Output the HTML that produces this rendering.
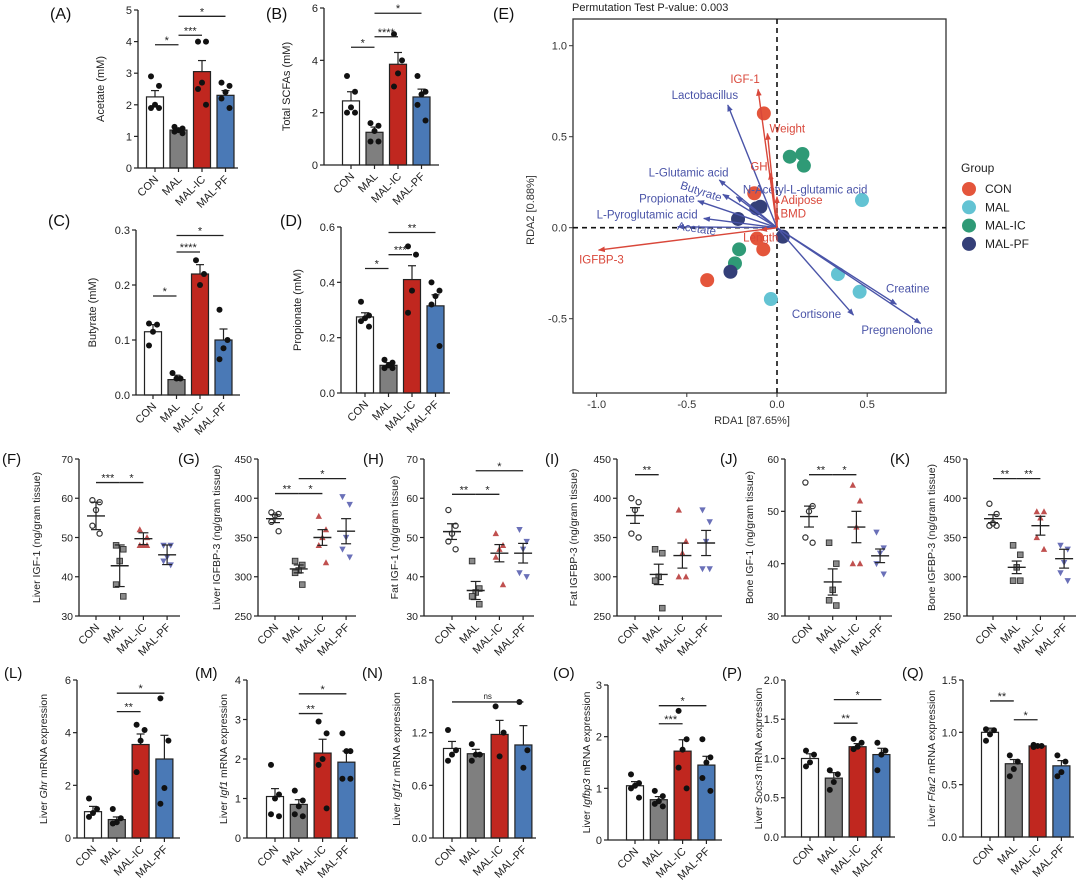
<!DOCTYPE html>
<html><head><meta charset="utf-8">
<style>
html,body{margin:0;padding:0;background:#fff;}
svg{display:block;font-family:"Liberation Sans",Arial,sans-serif;}
</style></head>
<body>
<svg id="fig" width="1080" height="885" viewBox="0 0 1080 885" xmlns="http://www.w3.org/2000/svg"></svg>
<script>
// ---------------- DATA ----------------
const groups = ["CON","MAL","MAL-IC","MAL-PF"];
// Row 1 SCFA bar panels
const A_mean=[2.25,1.2,3.05,2.3], A_err=[0.2,0.05,0.35,0.15];
const A_pts=[[2.9,2.6,2.0,1.9,1.9],[1.3,1.25,1.2,1.15,1.1],[4.0,4.0,2.7,2.5,2.0],[2.7,2.6,2.4,2.2,1.9]];
const A_sig=[[0,1,3.9,"*"],[1,2,4.2,"***"],[1,3,4.8,"*"]];
const B_mean=[2.45,1.25,3.85,2.6], B_err=[0.35,0.2,0.45,0.3];
const B_pts=[[3.4,2.8,2.2,2.0,2.0],[1.6,1.5,1.3,0.9,0.9],[5.0,4.0,3.5,3.0],[3.4,2.8,2.7,2.3,1.7]];
const B_sig=[[0,1,4.5,"*"],[1,2,4.9,"****"],[1,3,5.8,"*"]];
const C_mean=[0.115,0.028,0.22,0.10], C_err=[0.013,0.008,0.017,0.02];
const C_pts=[[0.13,0.128,0.115,0.09],[0.04,0.03,0.03],[0.245,0.22,0.2],[0.155,0.1,0.085,0.065]];
const C_sig=[[0,1,0.18,"*"],[1,2,0.26,"****"],[1,3,0.29,"*"]];
const D_mean=[0.275,0.10,0.41,0.315], D_err=[0.015,0.01,0.05,0.04];
const D_pts=[[0.33,0.28,0.27,0.26,0.24],[0.12,0.11,0.1,0.09,0.09],[0.53,0.5,0.37,0.29],[0.4,0.37,0.35,0.32,0.17]];
const D_sig=[[0,1,0.45,"*"],[1,2,0.5,"***"],[1,3,0.58,"**"]];
// Row 2 scatter panels
const F_mean=[55.5,42.8,49.7,45.6], F_err=[3.5,5.3,1.5,2.5];
const F_pts=[[59.5,59,57,53,51],[48,47,44,38,35],[52,50,48,48,48],[48,48,45,44,43]];
const F_sig=[[0,1,64,"***"],[1,2,64,"*"]];
const G_mean=[374,310,350,358], G_err=[5,5,10,16];
const G_pts=[[382,380,378,370,358],[320,315,308,305,290],[377,360,350,340,318],[402,392,350,335,325]];
const G_sig=[[0,1,406,"**"],[1,2,406,"*"],[1,3,425,"*"]];
const H_mean=[51.5,36.5,46,46], H_err=[2,2.3,2.2,2.5];
const H_pts=[[57,53,51,49,47],[44,37,36,35,33],[51,48,47,45,38],[52,49,47,41,40]];
const H_sig=[[0,1,61,"**"],[1,2,61,"*"],[1,3,67,"*"]];
const I_mean=[378,303,327,343], I_err=[10,13,16,16];
const I_pts=[[400,395,385,355,350],[335,330,300,295,260],[385,345,330,300,300],[385,370,345,310,310]];
const I_sig=[[0,1,430,"**"]];
const J_mean=[49,36.5,47,41.5], J_err=[2,2.5,3,1.3];
const J_pts=[[55.5,51,50,45,44],[44,40,35,33,32],[55,52,47,40,40],[46,43,42,40,38]];
const J_sig=[[0,1,57,"**"],[1,2,57,"*"]];
const K_mean=[374,312,365,323], K_err=[5,8,12,12];
const K_pts=[[393,380,368,365,365],[340,328,312,295,295],[383,383,375,350,335],[340,335,318,305,295]];
const K_sig=[[0,1,425,"**"],[1,2,425,"**"]];
// Row 3 mRNA bar panels
const L_mean=[1.0,0.7,3.55,3.0], L_err=[0.2,0.1,0.4,0.9];
const L_pts=[[1.5,1.1,0.95,0.8],[1.1,0.75,0.6,0.55],[4.3,4.1,3.7,2.5],[5.3,3.7,1.9,1.3]];
const L_sig=[[1,2,4.8,"**"],[1,3,5.5,"*"]];
const M_mean=[1.05,0.85,2.15,1.92], M_err=[0.2,0.12,0.35,0.28];
const M_pts=[[1.85,1.1,1.0,0.6,0.55],[1.2,0.95,0.8,0.6,0.55],[2.95,2.65,2.0,1.85,0.75],[2.65,2.2,2.2,1.5,1.5]];
const M_sig=[[1,2,3.15,"**"],[1,3,3.65,"*"]];
const N_mean=[1.02,0.96,1.18,1.06], N_err=[0.08,0.05,0.16,0.22];
const N_pts=[[1.23,1.0,0.95,0.88],[1.07,0.95,0.95,0.88],[1.5,1.2,0.93],[1.55,1.0,0.8]];
const N_sig=[[0,3,1.55,"ns"]];
const O_mean=[1.05,0.78,1.72,1.45], O_err=[0.08,0.06,0.22,0.17];
const O_pts=[[1.27,1.1,1.05,1.0,0.82],[0.95,0.85,0.75,0.7,0.65],[2.5,1.95,1.75,1.4,1.0],[1.95,1.6,1.5,1.2,0.95]];
const O_sig=[[1,2,2.25,"***"],[1,3,2.6,"*"]];
const P_mean=[1.0,0.75,1.15,1.05], P_err=[0.06,0.07,0.04,0.08];
const P_pts=[[1.1,1.05,0.95,0.9],[0.85,0.8,0.7,0.6],[1.25,1.2,1.15,1.12],[1.2,1.1,1.05,0.85]];
const P_sig=[[1,2,1.45,"**"],[1,3,1.75,"*"]];
const Q_mean=[1.0,0.7,0.87,0.68], Q_err=[0.04,0.04,0.01,0.05];
const Q_pts=[[1.03,1.02,0.98,0.92],[0.78,0.72,0.65,0.58],[0.88,0.87,0.87,0.86],[0.78,0.72,0.62,0.58]];
const Q_sig=[[0,1,1.3,"**"],[1,2,1.12,"*"]];
// Panel E (RDA)
const E_xticks=[-1.0,-0.5,0.0,0.5], E_yticks=[1.0,0.5,0.0,-0.5];
const con_x=[-0.073,-0.126,-0.11,-0.076,-0.387], con_y=[0.628,0.189,-0.059,-0.119,-0.288];
const mal_x=[0.471,0.338,0.458,-0.034], mal_y=[0.152,-0.255,-0.352,-0.392];
const ic_x=[0.071,0.141,0.149,-0.21,-0.233], ic_y=[0.39,0.405,0.341,-0.119,-0.196];
const pf_x=[-0.092,-0.115,-0.216,0.032,-0.258], pf_y=[0.115,0.106,0.048,-0.049,-0.242];
const blueNames=["Lactobacillus","L-Glutamic acid","Butyrate","Propionate","L-Pyroglutamic acid","Acetate","N-Acetyl-L-glutamic acid","Creatine","Cortisone","Pregnenolone"];
const blueX=[-0.273,-0.32,-0.30,-0.439,-0.406,-0.55,-0.225,0.662,0.424,0.796];
const blueY=[0.674,0.262,0.183,0.147,0.051,0.005,0.170,-0.421,-0.48,-0.526];
const blueLX=[-0.40,-0.49,-0.42,-0.61,-0.72,-0.445,0.156,0.725,0.219,0.666];
const blueLY=[0.729,0.304,0.20,0.161,0.073,-0.004,0.21,-0.335,-0.474,-0.562];
const redNames=["IGF-1","Weight","GH","Adipose","BMD","Length","IGFBP-3"];
const redX=[-0.105,-0.053,-0.038,0.0,0.0,-0.09,-0.989];
const redY=[0.760,0.518,0.299,0.17,0.079,-0.013,-0.123];
const redLX=[-0.177,0.057,-0.10,0.137,0.09,-0.09,-0.973];
const redLY=[0.817,0.546,0.335,0.152,0.079,-0.053,-0.174];

// ---------------- DRAWING ----------------
const NS="http://www.w3.org/2000/svg";
const svg=document.getElementById("fig");
function mk(tag,attrs,parent){const e=document.createElementNS(NS,tag);for(const k in attrs)e.setAttribute(k,attrs[k]);(parent||svg).appendChild(e);return e;}
function txt(s,attrs,parent){const e=mk("text",attrs,parent);e.textContent=s;return e;}
const barFill=["#ffffff","#7f7f7f","#c0271f","#4a79b6"];
const dotFill=["none","#808080","#c0504f","#6a70b8"];

function drawPanel(Lo,means,errs,pts,sigs){
  const g=mk("g",{});
  
  
  const y=v=>Lo.bot-(v-Lo.min)/(Lo.max-Lo.min)*(Lo.bot-Lo.top);
  const cx=i=>Lo.c0+i*Lo.step;
  const lt=txt("("+Lo.id.toUpperCase()+")",{x:Lo.lx,y:Lo.ly,"font-size":Lo.big?16:15,fill:"#111"},g);
  
  
  means.forEach((m,i)=>{
    if(Lo.type==="bar"){
      const r=mk("rect",{x:cx(i)-Lo.bw/2,y:y(m),width:Lo.bw,height:Lo.bot-y(m),fill:barFill[i],stroke:"#222","stroke-width":1.2},g);
      
      
      mk("line",{x1:cx(i),x2:cx(i),y1:y(m),y2:y(m+errs[i]),stroke:"#222","stroke-width":1.2},g);
      mk("line",{x1:cx(i)-4,x2:cx(i)+4,y1:y(m+errs[i]),y2:y(m+errs[i]),stroke:"#222","stroke-width":1.2},g);
    }
  });
  const offs=[-4,4,0,-4,4];
  pts.forEach((arr,i)=>arr.forEach((v,k)=>{
    const px=cx(i)+offs[k%5]*(Lo.type==="bar"?1:0.9), py=y(v);
    let p;
    if(Lo.type==="bar"){p=mk("circle",{cx:px,cy:py,r:Lo.pr||3,fill:"#111"},g);}
    else{
      const s=2.8;
      if(i===0)p=mk("circle",{cx:px,cy:py,r:2.6,fill:"none",stroke:"#333","stroke-width":1.2},g);
      else if(i===1)p=mk("rect",{x:px-s,y:py-s,width:2*s,height:2*s,fill:"#8a8a8a",stroke:"#333","stroke-width":0.9},g);
      else if(i===2)p=mk("polygon",{points:`${px},${py-3.4} ${px-3.2},${py+2.6} ${px+3.2},${py+2.6}`,fill:dotFill[2]},g);
      else p=mk("polygon",{points:`${px},${py+3.4} ${px-3.2},${py-2.6} ${px+3.2},${py-2.6}`,fill:dotFill[3]},g);
    }
    
    
  }));
  if(Lo.type==="dot"){
    means.forEach((m,i)=>{
      const c=cx(i);
      mk("line",{x1:c-9,x2:c+9,y1:y(m),y2:y(m),stroke:"#222","stroke-width":1.4},g);
      mk("line",{x1:c,x2:c,y1:y(m-errs[i]),y2:y(m+errs[i]),stroke:"#222","stroke-width":1.2},g);
      mk("line",{x1:c-5,x2:c+5,y1:y(m-errs[i]),y2:y(m-errs[i]),stroke:"#222","stroke-width":1.2},g);
      mk("line",{x1:c-5,x2:c+5,y1:y(m+errs[i]),y2:y(m+errs[i]),stroke:"#222","stroke-width":1.2},g);
    });
  }
  const ya=mk("line",{x1:Lo.ax,x2:Lo.ax,y1:Lo.top,y2:Lo.bot,stroke:"#222","stroke-width":1.3},g);
  
  
  const xa=mk("line",{x1:Lo.ax,x2:Lo.end,y1:Lo.bot,y2:Lo.bot,stroke:"#222","stroke-width":1.3},g);
  
  
  Lo.ticks.forEach((t,k)=>{
    mk("line",{x1:Lo.ax-4,x2:Lo.ax,y1:y(t),y2:y(t),stroke:"#222","stroke-width":1.2},g);
    const tl=txt(Lo.tl[k],{x:Lo.ax-6,y:y(t)+Lo.fs*0.36,"text-anchor":"end","font-size":Lo.fs,fill:"#222"},g);
    
    
  });
  groups.forEach((gname,i)=>{
    mk("line",{x1:cx(i),x2:cx(i),y1:Lo.bot,y2:Lo.bot+4,stroke:"#222","stroke-width":1.2},g);
    const cl=txt(gname,{x:cx(i)+4,y:Lo.bot+12,"text-anchor":"end","font-size":Lo.cfs,fill:"#222",transform:`rotate(-45 ${cx(i)+4} ${Lo.bot+12})`},g);
    
    
  });
  const tx=Lo.ax-Lo.tdx, ty=(Lo.top+Lo.bot)/2;
  const tt=mk("text",{x:tx,y:ty,"text-anchor":"middle","font-size":Lo.tfs,fill:"#222",transform:`rotate(-90 ${tx} ${ty})`},g);
  
  
  Lo.title.forEach((part,k)=>{const s=mk("tspan",{"font-style":k===1&&Lo.title.length===3?"italic":"normal"},tt);s.textContent=part;});
  sigs.forEach(s=>{
    const yy=y(s[2]);
    const sl=mk("line",{x1:cx(s[0]),x2:cx(s[1]),y1:yy,y2:yy,stroke:"#222","stroke-width":1.3},g);
    
    
    const st=txt(s[3],{x:(cx(s[0])+cx(s[1]))/2,y:yy-(s[3]==="ns"?3:1),"text-anchor":"middle","font-size":s[3]==="ns"?8:11,fill:"#222"},g);
    
    
  });
}
function tl(arr,d){return arr.map(v=>d===undefined?String(v):v.toFixed(d));}
const r1={type:"bar",bw:17,fs:11,cfs:11,tfs:11,tdx:34,step:23.5,big:true};
drawPanel({...r1,id:"a",ax:138,top:10,bot:168,end:238,c0:155,min:0,max:5,ticks:[0,1,2,3,4,5],tl:tl([0,1,2,3,4,5]),lx:50,ly:19,title:["Acetate (mM)"]},A_mean,A_err,A_pts,A_sig);
drawPanel({...r1,id:"b",ax:324,top:8,bot:165,end:439,c0:351,min:0,max:6,ticks:[0,2,4,6],tl:tl([0,2,4,6]),lx:266,ly:19,title:["Total SCFAs (mM)"]},B_mean,B_err,B_pts,B_sig);
drawPanel({...r1,id:"c",ax:136,top:230,bot:395,end:240,c0:153,min:0,max:0.3,ticks:[0,0.1,0.2,0.3],tl:tl([0,0.1,0.2,0.3],1),lx:48,ly:226,title:["Butyrate (mM)"],tdx:40},C_mean,C_err,C_pts,C_sig);
drawPanel({...r1,id:"d",ax:341,top:227,bot:393,end:450,c0:365,min:0,max:0.6,ticks:[0,0.2,0.4,0.6],tl:tl([0,0.2,0.4,0.6],1),lx:280,ly:226,title:["Propionate (mM)"],tdx:40},D_mean,D_err,D_pts,D_sig);

const r2={type:"dot",fs:10.5,cfs:11,tfs:10.5,step:23.7,top:459,bot:616};
const t3070=[30,40,50,60,70], t250=[250,300,350,400,450];
drawPanel({...r2,id:"f",ax:79,end:180,c0:96,min:30,max:70,ticks:t3070,tl:tl(t3070),lx:2,ly:464,tdx:39,title:["Liver IGF-1 (ng/gram tissue)"]},F_mean,F_err,F_pts,F_sig);
drawPanel({...r2,id:"g",ax:258,end:356,c0:275,min:250,max:450,ticks:t250,tl:tl(t250),lx:178,ly:464,tdx:38,title:["Liver IGFBP-3 (ng/gram tissue)"]},G_mean,G_err,G_pts,G_sig);
drawPanel({...r2,id:"h",ax:424,end:534,c0:452,min:30,max:70,ticks:t3070,tl:tl(t3070),lx:363,ly:464,tdx:26,title:["Fat IGF-1 (ng/gram tissue)"]},H_mean,H_err,H_pts,H_sig);
drawPanel({...r2,id:"i",ax:617,end:722,c0:635,min:250,max:450,ticks:t250,tl:tl(t250),lx:545,ly:464,tdx:40,title:["Fat IGFBP-3 (ng/gram tissue)"]},I_mean,I_err,I_pts,I_sig);
drawPanel({...r2,id:"j",ax:785,end:892,c0:809,min:30,max:60,ticks:[30,40,50,60],tl:tl([30,40,50,60]),lx:720,ly:464,tdx:32,title:["Bone IGF-1 (ng/gram tissue)"]},J_mean,J_err,J_pts,J_sig);
drawPanel({...r2,id:"k",ax:967,end:1076,c0:993,min:250,max:450,ticks:t250,tl:tl(t250),lx:890,ly:464,tdx:32,title:["Bone IGFBP-3 (ng/gram tissue)"]},K_mean,K_err,K_pts,K_sig);

const r3={type:"bar",bw:17,pr:3,fs:11,cfs:11,tfs:10.5,step:23.8,top:680,bot:838};
drawPanel({...r3,id:"l",ax:77,end:180,c0:93,min:0,max:6,ticks:[0,2,4,6],tl:tl([0,2,4,6]),lx:4,ly:678,tdx:30,title:["Liver ","Ghr","  mRNA expression"]},L_mean,L_err,L_pts,L_sig);
drawPanel({...r3,id:"m",ax:247,end:358,c0:275,min:0,max:4,ticks:[0,1,2,3,4],tl:tl([0,1,2,3,4]),lx:195,ly:678,tdx:20,title:["Liver ","Igf1","  mRNA expression"]},M_mean,M_err,M_pts,M_sig);
drawPanel({...r3,id:"n",ax:433,end:536,c0:452,min:0,max:1.8,ticks:[0,0.6,1.2,1.8],tl:tl([0,0.6,1.2,1.8],1),lx:362,ly:678,tdx:33,title:["Liver ","Igf1r","  mRNA expression"]},N_mean,N_err,N_pts,N_sig);
drawPanel({...r3,id:"o",ax:608,end:722,c0:635,min:0,max:3,ticks:[0,1,2,3],tl:tl([0,1,2,3]),lx:553,ly:678,tdx:18,top:685,bot:840,title:["Liver ","Igfbp3","  mRNA expression"]},O_mean,O_err,O_pts,O_sig);
drawPanel({...r3,id:"p",ax:785,end:895,c0:810,min:0,max:2,ticks:[0,0.5,1,1.5,2],tl:tl([0,0.5,1,1.5,2],1),lx:722,ly:678,tdx:23,bot:837,title:["Liver ","Socs3","  mRNA expression"]},P_mean,P_err,P_pts,P_sig);
drawPanel({...r3,id:"q",ax:963,end:1074,c0:990,min:0,max:1.5,ticks:[0,0.5,1,1.5],tl:tl([0,0.5,1,1.5],1),lx:902,ly:678,tdx:28,bot:837,title:["Liver ","Ffar2","  mRNA expression"]},Q_mean,Q_err,Q_pts,Q_sig);

// ---- Panel E ----
(function(){
  const g=mk("g",{});
  
  
  const X=v=>777+180.4*v, Y=v=>227.7-182*v;
  const L=573,R=946,T=19,B=393;
  const el=txt("(E)",{x:493,y:19,"font-size":16,fill:"#111"},g);
  
  
  const pt=txt("Permutation Test P-value: 0.003",{x:572,y:11,"font-size":11,fill:"#222"},g);
  
  
  const box=mk("rect",{x:L,y:T,width:R-L,height:B-T,fill:"none",stroke:"#333","stroke-width":1.3},g);
  
  
  mk("line",{x1:X(0),x2:X(0),y1:T,y2:B,stroke:"#111","stroke-width":1.6,"stroke-dasharray":"5,4"},g);
  mk("line",{x1:L,x2:R,y1:Y(0),y2:Y(0),stroke:"#111","stroke-width":1.6,"stroke-dasharray":"5,4"},g);
  E_xticks.forEach(v=>{
    mk("line",{x1:X(v),x2:X(v),y1:B,y2:B+4,stroke:"#333"},g);
    const t=txt(v.toFixed(1),{x:X(v),y:B+15,"text-anchor":"middle","font-size":11,fill:"#333"},g);
    
    
  });
  E_yticks.forEach(v=>{
    mk("line",{x1:L-4,x2:L,y1:Y(v),y2:Y(v),stroke:"#333"},g);
    const t=txt(v.toFixed(1),{x:L-6,y:Y(v)+4,"text-anchor":"end","font-size":11,fill:"#333"},g);
    
    
  });
  const xt=txt("RDA1 [87.65%]",{x:752,y:424,"text-anchor":"middle","font-size":11,fill:"#333"},g);
  
  
  const yt=txt("RDA2 [0.88%]",{x:534,y:210,"text-anchor":"middle","font-size":11,fill:"#333",transform:"rotate(-90 534 210)"},g);
  
  
  const defs=mk("defs",{},g);
  [["ab","#4a54a8"],["ar","#d9473a"]].forEach(([id,c])=>{
    const m=mk("marker",{id:id,viewBox:"0 0 10 10",refX:9,refY:5,markerWidth:5,markerHeight:5,orient:"auto"},defs);
    mk("path",{d:"M0,1 L10,5 L0,9 z",fill:c},m);
  });
  const sets=[[con_x,con_y,"#e4553b","con"],[mal_x,mal_y,"#63c3d3","mal"],[ic_x,ic_y,"#2f9a76","mal-ic"],[pf_x,pf_y,"#343f78","mal-pf"]];
  sets.forEach(([xs,ys,c,n])=>xs.forEach((v,i)=>{
    const p=mk("circle",{cx:X(v),cy:Y(ys[i]),r:7,fill:c},g);
    
    
  }));
  blueNames.forEach((n,i)=>{
    const a=mk("line",{x1:X(0),y1:Y(0),x2:X(blueX[i]),y2:Y(blueY[i]),stroke:"#4a54a8","stroke-width":1.4,"marker-end":"url(#ab)"},g);
    
    
    const rot=n==="Butyrate"?"rotate(18 "+X(blueLX[i])+" "+Y(blueLY[i])+")":(n==="Acetate"?"rotate(8 "+X(blueLX[i])+" "+Y(blueLY[i])+")":"");
    const t=txt(n,{x:X(blueLX[i]),y:Y(blueLY[i])+4,"text-anchor":"middle","font-size":11.5,fill:"#4a54a8",transform:rot},g);
    
    
  });
  redNames.forEach((n,i)=>{
    const a=mk("line",{x1:X(0),y1:Y(0),x2:X(redX[i]),y2:Y(redY[i]),stroke:"#d9473a","stroke-width":1.4,"marker-end":"url(#ar)"},g);
    
    
    const t=txt(n,{x:X(redLX[i]),y:Y(redLY[i])+4,"text-anchor":"middle","font-size":11.5,fill:"#d9473a"},g);
    
    
  });
  const lg=mk("g",{},g);
  
  
  txt("Group",{x:961,y:172,"font-size":12,fill:"#222"},lg);
  [["CON","#e4553b"],["MAL","#63c3d3"],["MAL-IC","#2f9a76"],["MAL-PF","#343f78"]].forEach(([n,c],i)=>{
    const e=mk("g",{},lg);
    
    
    mk("circle",{cx:969,cy:189+i*18.3,r:7,fill:c},e);
    txt(n,{x:985,y:193+i*18.3,"font-size":12,fill:"#222"},e);
  });
})();
</script>
</body></html>
